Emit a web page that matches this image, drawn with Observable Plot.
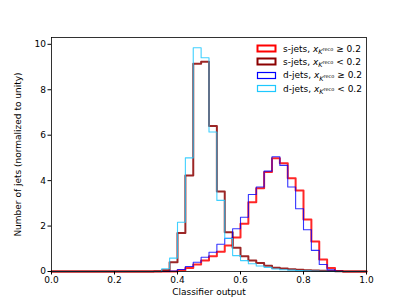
<!DOCTYPE html>
<html>
<head>
<meta charset="utf-8">
<script src="https://cdn.jsdelivr.net/npm/d3@7"></script>
<script src="https://cdn.jsdelivr.net/npm/@observablehq/plot@0.6"></script>
<style>
  html, body { margin: 0; padding: 0; background: #fff; }
  #wrap { position: relative; width: 407px; height: 305px; font-family: "DejaVu Sans", sans-serif; }
  #legend { position: absolute; left: 256px; top: 42px; font-size: 9px; color: #000; }
  .row { display: flex; align-items: center; height: 13.3px; white-space: nowrap; }
  .row svg { margin-right: 6px; display: block; }
  .row i { font-style: italic; }
  .sub { font-size: 6.5px; position: relative; top: 2.5px; }
  .sup { font-size: 5px; position: relative; top: -3px; }
</style>
</head>
<body>
<div id="wrap"></div>
<script>
// Histogram bins: 40 bins of width 0.025 over [0, 1]
const binWidth = 0.025;
const binStarts = d3.range(40).map(i => +(i * binWidth).toFixed(3));

// s-jets, x >= 0.2 (red)
const sJetsHigh = [0,0,0,0,0,0,0,0,0,0, 0,0,0,0,0,0,0.05,0.15,0.31,0.48, 0.67,0.87,1.14,1.50,2.10,3.05,3.66,4.38,4.98,4.77, 4.11,3.57,2.29,1.32,0.53,0.15,0.02,0,0,0];
// s-jets, x < 0.2 (dark red)
const sJetsLow = [0,0,0,0,0,0,0,0,0,0, 0,0,0,0.01,0.05,0.41,1.69,4.23,9.15,9.23, 6.40,3.52,1.73,1.04,0.67,0.48,0.37,0.25,0.17,0.13, 0.10,0.08,0.06,0.04,0.03,0.02,0.01,0,0,0];
// d-jets, x >= 0.2 (blue)
const dJetsHigh = [0,0,0,0,0,0,0,0,0,0, 0,0,0,0,0,0.02,0.09,0.22,0.41,0.63, 0.85,1.20,1.46,1.88,2.39,3.39,3.72,4.42,5.05,4.67, 3.72,2.76,1.84,0.93,0.31,0.07,0.01,0,0,0];
// d-jets, x < 0.2 (cyan)
const dJetsLow = [0,0,0,0,0,0,0,0,0,0, 0,0,0,0,0.12,0.59,2.17,5.00,9.85,9.41, 6.14,3.13,1.45,0.70,0.48,0.34,0.24,0.18,0.11,0.08, 0.06,0.04,0.03,0.02,0.01,0,0,0,0,0];

const xTicks = [0, 0.2, 0.4, 0.6, 0.8, 1.0];
const yTicks = [0, 2, 4, 6, 8, 10];

const series = [
  {label: "s-jets", cmp: "≥", values: sJetsHigh, color: "#ff0000", width: 2.0, opacity: 0.85},
  {label: "s-jets", cmp: "<", values: sJetsLow, color: "#8b0000", width: 2.0, opacity: 0.85},
  {label: "d-jets", cmp: "≥", values: dJetsHigh, color: "#0000ff", width: 1.1, opacity: 0.8},
  {label: "d-jets", cmp: "<", values: dJetsLow, color: "#1ec8ff", width: 1.1, opacity: 0.85}
];

function stepData(values) {
  const pts = binStarts.map((x, i) => ({x, y: values[i]}));
  pts.push({x: 1, y: values[values.length - 1]});
  return pts;
}

const marks = [];
for (const s of series) {
  marks.push(Plot.line(stepData(s.values), {
    x: "x", y: "y", curve: "step-after",
    stroke: s.color, strokeWidth: s.width, strokeOpacity: s.opacity
  }));
}

const chart = Plot.plot({
  width: 407,
  height: 305,
  marginLeft: 51,
  marginRight: 41,
  marginTop: 37,
  marginBottom: 34,
  style: {fontFamily: "DejaVu Sans, sans-serif", fontSize: "9px", background: "#fff", color: "#000"},
  x: {domain: [0, 1]},
  y: {domain: [0, 10.3]},
  marks: [
    ...marks,
    Plot.frame({stroke: "#000", strokeWidth: 0.8}),
    Plot.axisX(xTicks, {tickFormat: d3.format(".1f"), tickSize: 3.5, tickPadding: 2, fontSize: 9, label: null}),
    Plot.axisY(yTicks, {tickSize: 3.5, tickPadding: 2, fontSize: 9, label: null}),
    Plot.text(["Classifier output"], {frameAnchor: "bottom", dy: 23, fontSize: 9}),
    Plot.text(["Number of jets (normalized to unity)"], {frameAnchor: "left", dx: -33, rotate: -90, textAnchor: "middle", fontSize: 9})
  ]
});

const wrap = document.getElementById("wrap");
wrap.appendChild(chart);

const legend = document.createElement("div");
legend.id = "legend";
for (const s of series) {
  const row = document.createElement("div");
  row.className = "row";
  const w = s.width >= 2 ? 2 : 1.2;
  row.innerHTML = `<svg width="21" height="9"><rect x="1.5" y="1.5" width="18" height="6" fill="none" stroke="${s.color}" stroke-width="${w}"></rect></svg>` +
    `<span>${s.label}, <i>x</i><span class="sub"><i>K</i><span class="sup">reco</span></span> ${s.cmp} 0.2</span>`;
  legend.appendChild(row);
}
wrap.appendChild(legend);
</script>
</body>
</html>
